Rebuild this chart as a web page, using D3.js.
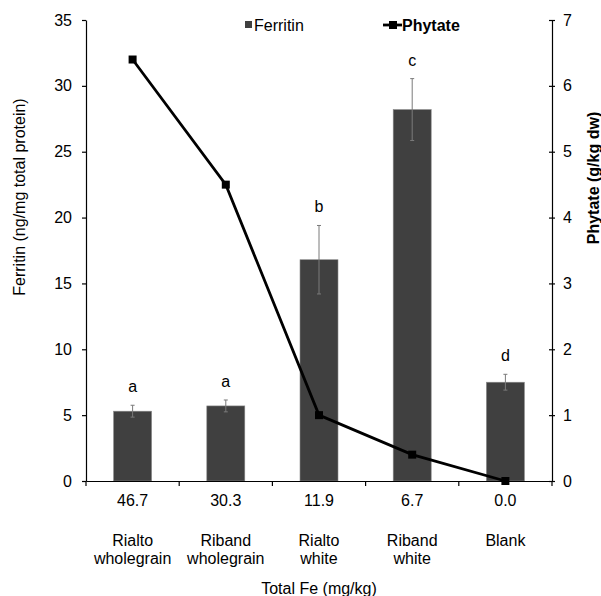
<!DOCTYPE html>
<html>
<head>
<meta charset="utf-8">
<script src="https://cdn.jsdelivr.net/npm/d3@7"></script>
<style>
  body { margin: 0; background: #fff; }
  svg { font-family: "Liberation Sans", Arial, sans-serif; }
</style>
</head>
<body>
<div id="app"></div>
<script>
const categories = ['Rialto wholegrain', 'Riband wholegrain', 'Rialto white', 'Riband white', 'Blank']
const totalFe = ['46.7', '30.3', '11.9', '6.7', '0.0']
const ferritin = [5.3, 5.7, 16.8, 28.2, 7.5]
const ferritinErr = [0.45, 0.45, 2.6, 2.35, 0.6]
const letters = ['a', 'a', 'b', 'c', 'd']
const phytate = [6.4, 4.5, 1.0, 0.4, 0.0]
const leftTicks = [0, 5, 10, 15, 20, 25, 30, 35]
const rightTicks = [0, 1, 2, 3, 4, 5, 6, 7]

const width = 601, height = 596
const margin = {left: 86, right: 49, top: 20, bottom: 115}
const fs = 16

const svg = d3.select('#app').append('svg')
    .attr('width', width)
    .attr('height', height)

const x = d3.scaleBand()
    .domain(categories)
    .range([margin.left, width - margin.right])

const yL = d3.scaleLinear().domain([0, 35]).range([height - margin.bottom, margin.top])
const yR = d3.scaleLinear().domain([0, 7]).range([height - margin.bottom, margin.top])

const barW = 38
const barColor = '#404040'
const cx = i => x(categories[i]) + x.bandwidth() / 2

// bars
svg.append('g').selectAll('rect')
    .data(ferritin)
    .join('rect')
    .attr('x', (d, i) => cx(i) - barW / 2)
    .attr('y', d => yL(d))
    .attr('width', barW)
    .attr('height', d => yL(0) - yL(d))
    .attr('fill', barColor)
    .attr('stroke', '#8a8a8a')
    .attr('stroke-width', 0.6)

// error bars
const err = svg.append('g').attr('stroke', '#7a7a7a').attr('stroke-width', 1)
ferritin.forEach((d, i) => {
    err.append('line').attr('x1', cx(i)).attr('x2', cx(i))
        .attr('y1', yL(d - ferritinErr[i])).attr('y2', yL(d + ferritinErr[i]))
    ;[d - ferritinErr[i], d + ferritinErr[i]].forEach(v => {
        err.append('line').attr('x1', cx(i) - 2).attr('x2', cx(i) + 2).attr('y1', yL(v)).attr('y2', yL(v))
    })
})

// significance letters
svg.append('g').selectAll('text')
    .data(letters)
    .join('text')
    .attr('x', (d, i) => cx(i))
    .attr('y', (d, i) => yL(ferritin[i] + ferritinErr[i]) - 13)
    .attr('text-anchor', 'middle')
    .attr('font-size', fs)
    .text(d => d)

// axes
const axisL = svg.append('g')
    .attr('transform', `translate(${margin.left},0)`)
    .call(d3.axisLeft(yL).tickValues(leftTicks).tickSize(4).tickPadding(10).tickSizeOuter(0))
const axisR = svg.append('g')
    .attr('transform', `translate(${width - margin.right},0)`)
    .call(d3.axisRight(yR).tickValues(rightTicks).tickFormat(d3.format('d')).tickSize(3).tickPadding(8).tickSizeOuter(0))
axisR.selectAll('.tick line').attr('x1', -3)

const axisB = svg.append('g')
    .attr('transform', `translate(0,${yL(0)})`)
    .call(d3.axisBottom(x).tickValues([]).tickSizeOuter(0))
axisB.selectAll('.tick-b')
    .data(d3.range(categories.length + 1))
    .join('line')
    .attr('x1', i => margin.left + i * x.step())
    .attr('x2', i => margin.left + i * x.step())
    .attr('y1', 0).attr('y2', 5)

;[axisL, axisR, axisB].forEach(a => {
    a.selectAll('path, line').attr('stroke', '#000').attr('stroke-width', 1.2)
    a.selectAll('text').attr('font-size', fs).attr('fill', '#000')
        .attr('font-family', '"Liberation Sans", Arial, sans-serif')
})

// phytate line
const line = d3.line()
    .x((d, i) => cx(i))
    .y(d => yR(d))
svg.append('path')
    .datum(phytate)
    .attr('d', line)
    .attr('fill', 'none')
    .attr('stroke', '#000')
    .attr('stroke-width', 2.8)
svg.append('g').selectAll('rect')
    .data(phytate)
    .join('rect')
    .attr('x', (d, i) => cx(i) - 4)
    .attr('y', d => yR(d) - 4)
    .attr('width', 8)
    .attr('height', 8)
    .attr('fill', '#000')

// x labels
const xl = svg.append('g').attr('font-size', fs).attr('text-anchor', 'middle')
totalFe.forEach((t, i) => {
    xl.append('text')
        .attr('x', cx(i))
        .attr('y', yL(0) + 25)
        .text(t)
})
categories.forEach((c, i) => {
    const tx = xl.append('text')
        .attr('x', cx(i))
        .attr('y', yL(0) + 65)
    c.split(' ').forEach((p, j) => {
        tx.append('tspan')
            .attr('x', cx(i))
            .attr('dy', j === 0 ? 0 : 18)
            .text(p)
    })
})
svg.append('text')
    .attr('x', (margin.left + width - margin.right) / 2)
    .attr('y', 594)
    .attr('text-anchor', 'middle')
    .attr('font-size', fs)
    .text('Total Fe (mg/kg)')

// axis titles
svg.append('text')
    .attr('transform', `translate(25,197) rotate(-90)`)
    .attr('text-anchor', 'middle')
    .attr('font-size', fs)
    .text('Ferritin (ng/mg total protein)')
svg.append('text')
    .attr('transform', `translate(599,178) rotate(-90)`)
    .attr('text-anchor', 'middle')
    .attr('font-size', fs)
    .attr('font-weight', 'bold')
    .text('Phytate (g/kg dw)')

// legend
const lg = svg.append('g').attr('font-size', fs)
lg.append('rect').attr('x', 245).attr('y', 21).attr('width', 7).attr('height', 7).attr('fill', barColor)
lg.append('text').attr('x', 254).attr('y', 31).text('Ferritin')
lg.append('line').attr('x1', 383).attr('x2', 402).attr('y1', 25).attr('y2', 25).attr('stroke', '#000').attr('stroke-width', 2.8)
lg.append('rect').attr('x', 389).attr('y', 21).attr('width', 8).attr('height', 8).attr('fill', '#000')
lg.append('text').attr('x', 402).attr('y', 31).attr('font-weight', 'bold').text('Phytate')
</script>
</body>
</html>
